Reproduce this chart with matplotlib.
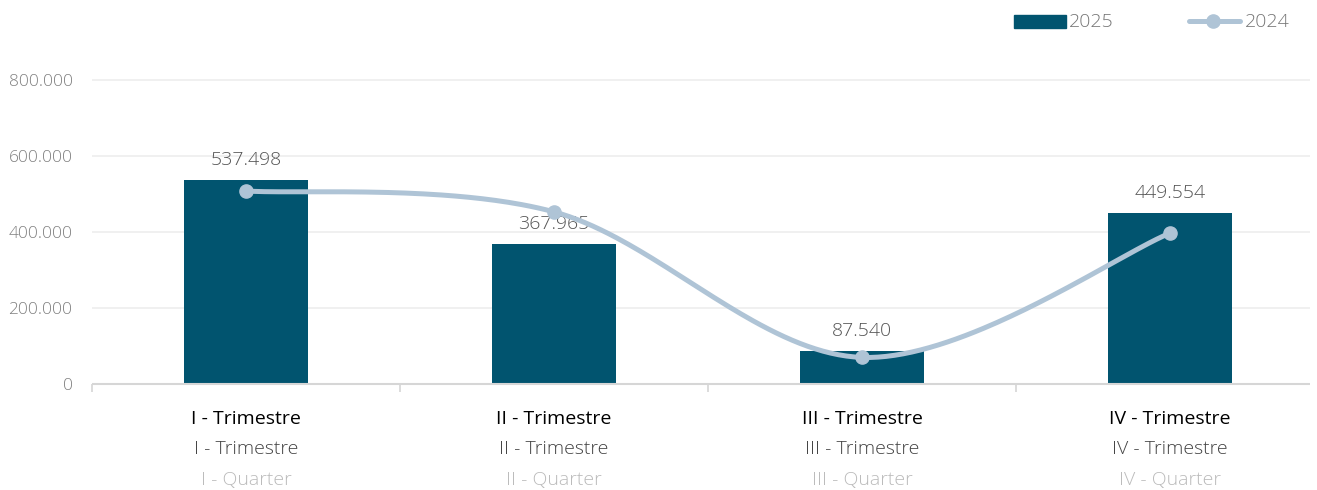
import numpy as np
import matplotlib
matplotlib.use("Agg")
import matplotlib.pyplot as plt
from matplotlib.patches import Rectangle
from matplotlib.lines import Line2D
from matplotlib.transforms import blended_transform_factory

# data
quarters_pt = ["I - Trimestre", "II - Trimestre", "III - Trimestre", "IV - Trimestre"]
quarters_en = ["I - Quarter", "II - Quarter", "III - Quarter", "IV - Quarter"]
values_2025 = [537498, 367965, 87540, 449554]
values_2024 = [508000, 453000, 70000, 397000]
y_ticks = [0, 200000, 400000, 600000, 800000]
y_tick_labels = ["0", "200.000", "400.000", "600.000", "800.000"]

BAR_COLOR = "#01546f"
LINE_COLOR = "#afc4d6"
W, H = 1317, 490
PX_X = 308.0  # pixels per category

plt.rcParams['font.family'] = ['Open Sans', 'DejaVu Sans']


def cardinal(x, y, n=80):
    """cardinal spline (tension 0) through the points, ends duplicated"""
    x = np.asarray(x, float)
    y = np.asarray(y, float)
    px = np.concatenate([[x[0]], x, [x[-1]]])
    py = np.concatenate([[y[0]], y, [y[-1]]])
    t = np.linspace(0, 1, n)
    xs, ys = [], []
    for i in range(1, len(px) - 2):
        c1x = px[i] + (px[i + 1] - px[i - 1]) / 6
        c1y = py[i] + (py[i + 1] - py[i - 1]) / 6
        c2x = px[i + 1] - (px[i + 2] - px[i]) / 6
        c2y = py[i + 1] - (py[i + 2] - py[i]) / 6
        a, b, c, d = (1 - t) ** 3, 3 * (1 - t) ** 2 * t, 3 * (1 - t) * t ** 2, t ** 3
        xs.append(a * px[i] + b * c1x + c * c2x + d * px[i + 1])
        ys.append(a * py[i] + b * c1y + c * c2y + d * py[i + 1])
    return np.concatenate(xs), np.concatenate(ys)


fig = plt.figure(figsize=(W / 100, H / 100), dpi=100)
ax = fig.add_axes([92 / W, 1 - 384 / H, 1232 / W, 304 / H])
ax.set_xlim(-0.5, 3.5)
ax.set_ylim(0, 800000)
for sp in ax.spines.values():
    sp.set_visible(False)

x = np.arange(len(values_2025))
grid_end = -0.5 + (1310 - 92) / PX_X
ax.hlines(y_ticks[1:], -0.5, grid_end, color="#eeeeee", lw=1.2, zorder=0, clip_on=False)
ax.hlines(0, -0.5, grid_end, color="#d6d6d6", lw=1.5, zorder=3, clip_on=False)

ax.bar(x, values_2025, width=0.4, color=BAR_COLOR, zorder=2)
for xi, v in zip(x, values_2025):
    ax.annotate(f"{v:,}".replace(",", "."), (xi, v), xytext=(0, 8), textcoords="offset points",
                ha="center", va="bottom", fontsize=14, color="#555555", fontweight="light")

sx, sy = cardinal(x, values_2024)
ax.plot(sx, sy, color=LINE_COLOR, lw=3.6, solid_capstyle="round", zorder=4, clip_on=False)
ax.plot(x, values_2024, "o", color=LINE_COLOR, ms=9.5, zorder=5)

ax.set_yticks(y_ticks)
ax.set_yticklabels(y_tick_labels)
ax.tick_params(axis="y", length=0, pad=14, labelsize=12.5, labelcolor="#808080")
for lbl in ax.get_yticklabels():
    lbl.set_fontweight("light")
ax.set_xticks([-0.5, 0.5, 1.5, 2.5])
ax.set_xticklabels([])
ax.tick_params(axis="x", length=6, width=1.2, color="#d6d6d6")

# category labels in three rows
trans = blended_transform_factory(ax.transData, fig.transFigure)
for xi, pt, en in zip(x, quarters_pt, quarters_en):
    ax.text(xi, 1 - 419 / H, pt, transform=trans, ha="center", va="center",
            fontsize=14, color="#000000", fontweight="normal")
    ax.text(xi, 1 - 449 / H, pt, transform=trans, ha="center", va="center",
            fontsize=14, color="#444444", fontweight="light")
    ax.text(xi, 1 - 480 / H, en, transform=trans, ha="center", va="center",
            fontsize=14, color="#bbbbbb", fontweight="light")

# legend drawn by hand
fig.add_artist(Rectangle((1014 / W, 1 - 28 / H), 52 / W, 13 / H, transform=fig.transFigure,
                         color=BAR_COLOR))
fig.text(1069 / W, 1 - 22 / H, "2025", ha="left", va="center", fontsize=14,
         color="#777777", fontweight="light")
fig.add_artist(Line2D([1189 / W, 1240 / W], [1 - 21 / H] * 2, transform=fig.transFigure,
                      color=LINE_COLOR, lw=3.6, solid_capstyle="round"))
fig.add_artist(Line2D([1213 / W], [1 - 21 / H], transform=fig.transFigure, marker="o",
                      color=LINE_COLOR, ms=9.5))
fig.text(1245 / W, 1 - 22 / H, "2024", ha="left", va="center", fontsize=14,
         color="#777777", fontweight="light")

fig.savefig("out.png", dpi=100)
